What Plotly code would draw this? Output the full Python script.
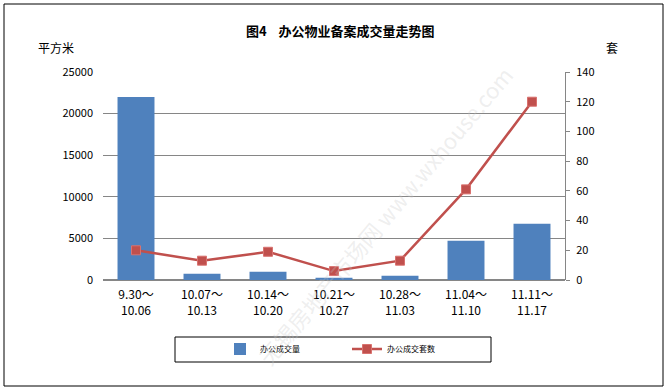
import plotly.graph_objects as go

categories = ["9.30～<br>10.06", "10.07～<br>10.13", "10.14～<br>10.20", "10.21～<br>10.27",
              "10.28～<br>11.03", "11.04～<br>11.10", "11.11～<br>11.17"]
area_values = [22000, 760, 1000, 280, 520, 4720, 6770]
unit_values = [20, 13, 19, 6, 13, 61, 120]
left_ticks = [0, 5000, 10000, 15000, 20000, 25000]
left_labels = ["0", "5000", "10000", "15000", "20000", "25000"]
right_ticks = [0, 20, 40, 60, 80, 100, 120, 140]

FONT = "Noto Sans CJK SC"
fig = go.Figure()
fig.add_trace(go.Bar(x=categories, y=area_values, name="办公成交量",
                     marker=dict(color="#4F81BD", line=dict(width=0)), width=0.56, yaxis="y"))
fig.add_trace(go.Scatter(x=categories, y=unit_values, name="办公成交套数", mode="lines+markers",
                         line=dict(color="#C0504D", width=2.5),
                         marker=dict(symbol="square", size=9, color="#C0504D",
                                     line=dict(color="#D9726F", width=1)),
                         yaxis="y2"))

W, H = 667, 390
L, R, T, B = 103, 565, 72, 280
pw, ph = R - L, B - T
def px(x): return (x - L) / pw
def py(y): return (B - y) / ph

def ann(text, x, y, size, **kw):
    return dict(text=text, xref="paper", yref="paper", x=px(x), y=py(y), showarrow=False,
                xanchor="center", yanchor="middle", font=dict(size=size, **kw.pop("font", {})), **kw)

fig.update_layout(
    width=W, height=H,
    margin=dict(l=L, r=W - R, t=T, b=H - B),
    paper_bgcolor="white", plot_bgcolor="white",
    font=dict(family=FONT, size=11, color="black"),
    showlegend=True,
    legend=dict(orientation="h", x=px(220), y=py(349), xanchor="left", yanchor="middle",
                bgcolor="rgba(0,0,0,0)", borderwidth=0, font=dict(size=8),
                entrywidth=82, entrywidthmode="pixels", itemwidth=30),
    xaxis=dict(showgrid=False, showline=False, ticks="", tickfont=dict(size=12),
               range=[-0.5, 6.5], ticklabelstandoff=6),
    yaxis=dict(range=[0, 25000], tickvals=left_ticks, ticktext=left_labels, showgrid=True,
               gridcolor="#868686", gridwidth=1, showline=False, zeroline=True,
               zerolinecolor="#868686", ticks="", tickfont=dict(size=11), ticklabelstandoff=9),
    yaxis2=dict(range=[0, 140], tickvals=right_ticks, overlaying="y", side="right",
                showgrid=False, showline=True, linecolor="#868686", linewidth=1,
                ticks="outside", ticklen=4, tickcolor="#868686", zeroline=False,
                tickfont=dict(size=11), ticklabelstandoff=4),
    shapes=[
        dict(type="rect", xref="paper", yref="paper", x0=px(4), x1=px(663), y0=py(386), y1=py(4),
             line=dict(color="black", width=1), fillcolor="rgba(0,0,0,0)", layer="below"),
        dict(type="rect", xref="paper", yref="paper", x0=px(175), x1=px(491), y0=py(362), y1=py(337),
             line=dict(color="black", width=1), fillcolor="rgba(0,0,0,0)"),
    ],
    annotations=[
        ann("<b>图4    办公物业备案成交量走势图</b>", 340, 30, 13),
        ann("平方米", 56, 47, 12),
        ann("套", 612, 47, 12),
        ann("无锡房地产市场网 www.wxhouse.com", 385, 215, 22, textangle=-50,
            font=dict(color="rgba(200,200,200,0.3)")),
    ],
)
fig.write_html("out.html")
